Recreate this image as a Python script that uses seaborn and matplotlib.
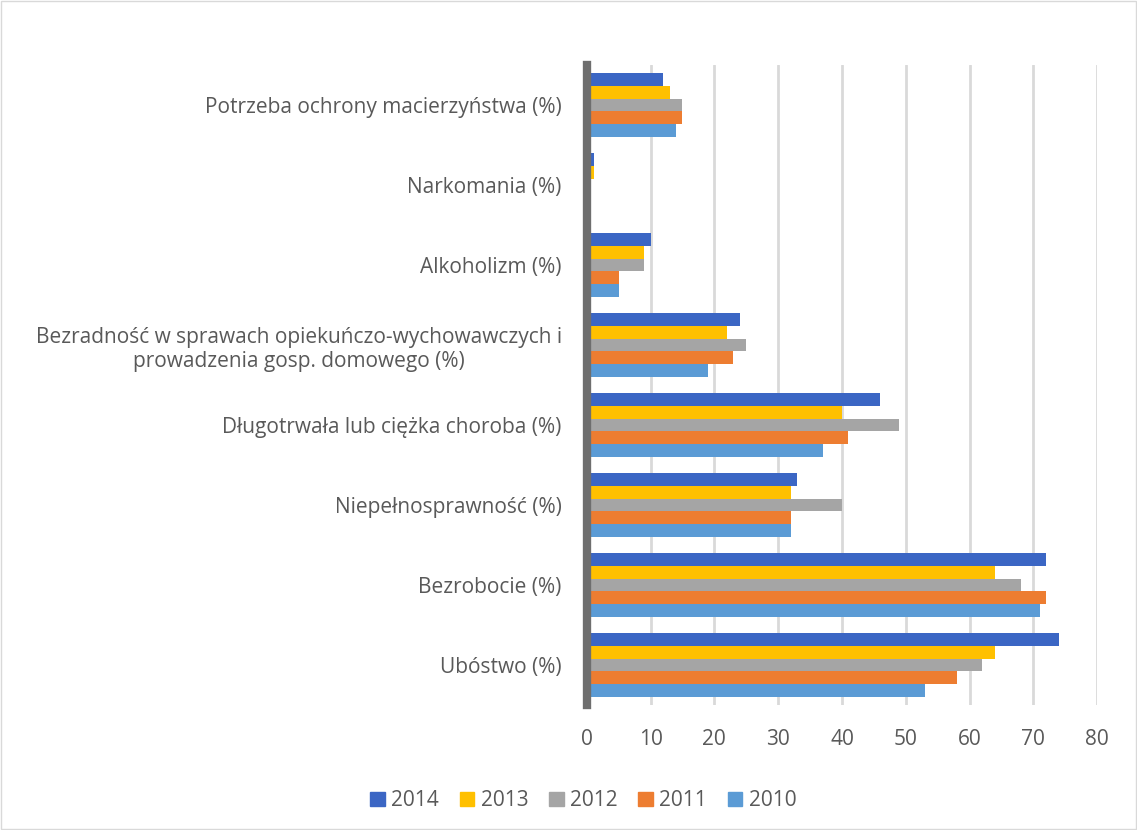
import pandas as pd
import numpy as np
import seaborn as sns
import matplotlib.pyplot as plt
import matplotlib.patches as mpatches

"""
    DATA
"""
categories = [
    'Potrzeba ochrony macierzyństwa (%)',
    'Narkomania (%)',
    'Alkoholizm (%)',
    'Bezradność w sprawach opiekuńczo-wychowawczych i\nprowadzenia gosp. domowego (%)',
    'Długotrwała lub ciężka choroba (%)',
    'Niepełnosprawność (%)',
    'Bezrobocie (%)',
    'Ubóstwo (%)',
]
years = ['2014', '2013', '2012', '2011', '2010']

v_2014 = [12, 1.2, 10, 24, 46, 33, 72, 74]
v_2013 = [13, 1.2, 9, 22, 40, 32, 64, 64]
v_2012 = [15, 0.3, 9, 25, 49, 40, 68, 62]
v_2011 = [15, 0.3, 5, 23, 41, 32, 72, 58]
v_2010 = [14, 0.3, 5, 19, 37, 32, 71, 53]

xticks = [0, 10, 20, 30, 40, 50, 60, 70, 80]

_colors = ['#3B66C4', '#FFC000', '#A5A5A5', '#ED7D31', '#5B9BD5']

"""
    BUILD LONG TABLE
"""
_rows = []
for _y, _vals in zip(years, [v_2014, v_2013, v_2012, v_2011, v_2010]):
    for _c, _v in zip(categories, _vals):
        _rows.append({'category': _c, 'year': _y, 'value': _v})
df = pd.DataFrame(_rows)

"""
    PLOT
"""
sns.set_style('white')
plt.rcParams['font.family'] = ['Open Sans', 'DejaVu Sans']

fig = plt.figure(figsize=(11.37, 8.30), dpi=100)
ax = fig.add_axes([0.516, 0.1506, 0.449, 0.771])

sns.barplot(data=df, y='category', x='value', hue='year', order=categories,
            hue_order=years, palette=_colors, orient='h', width=0.8,
            saturation=1, edgecolor='none', ax=ax)

ax.set_xlim(0, 80)
ax.set_ylim(len(categories) - 0.5, -0.5)
ax.set_xticks(xticks)
ax.set_xticklabels([str(t) for t in xticks])
ax.grid(axis='x', color='#D9D9D9', linewidth=2)
ax.set_axisbelow(True)
ax.set_xlabel('')
ax.set_ylabel('')
for _s in ['top', 'right', 'bottom']:
    ax.spines[_s].set_visible(False)
ax.spines['left'].set_color('#6E6E6E')
ax.spines['left'].set_linewidth(6)
ax.tick_params(axis='x', length=0, pad=17, labelsize=15, labelcolor='#595959')
ax.tick_params(axis='y', length=0, pad=18, labelsize=15, labelcolor='#595959')
for _lab in ax.get_yticklabels():
    _lab.set_horizontalalignment('right')
    _lab.set_multialignment('center')

ax.get_legend().remove()
_handles = [mpatches.Patch(color=c, label=y) for c, y in zip(_colors, years)]
fig.legend(handles=_handles, loc='lower center', bbox_to_anchor=(0.513, 0.0),
           ncol=5, frameon=False, fontsize=15, handlelength=0.7,
           handleheight=0.7, columnspacing=1.0, handletextpad=0.3,
           labelcolor='#595959')

fig.patches.append(mpatches.Rectangle((0.001, 0.001), 0.998, 0.998,
                                      transform=fig.transFigure, fill=False,
                                      edgecolor='#D9D9D9', linewidth=1))

plt.savefig('out.png', dpi=100)
